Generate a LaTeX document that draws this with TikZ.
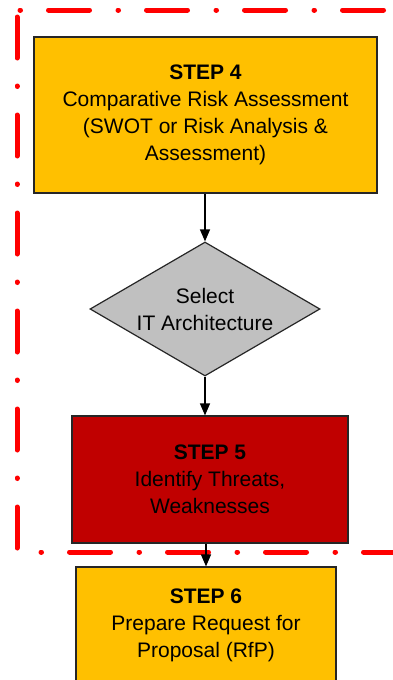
\documentclass[tikz,border=0pt]{standalone}
\usepackage{fontspec}
\setmainfont{Liberation Sans}
\usetikzlibrary{shapes.geometric,arrows.meta}

\definecolor{stepgold}{HTML}{FFC000}
\definecolor{stepred}{HTML}{C00000}
\definecolor{choicegray}{HTML}{C0C0C0}

\begin{document}
\begin{tikzpicture}[x=1pt,y=-1pt,
    stepbox/.style={draw=black!85,line width=1.2pt,align=center,inner sep=0pt,
      font=\fontsize{21}{27}\selectfont},
    flow/.style={line width=1.3pt,-{Triangle[width=10pt,length=12pt]}},
    frame/.style={red,line width=5pt,line cap=round}]
    \clip (0,0) rectangle (393,680);
    \fill[white] (0,0) rectangle (393,680);

    % red dash-dot frame
    \draw[frame,dash pattern=on 0.5pt off 28pt on 41pt off 28.5pt] (20,10) -- (400,10);
    \draw[frame,dash pattern=on 41pt off 28pt on 0.5pt off 28.5pt] (17,17) -- (17,549);
    \draw[frame,dash pattern=on 0.5pt off 28pt on 41pt off 28.5pt] (41,552) -- (400,552);

    \node (s4) at (205.5,115) [stepbox,fill=stepgold,minimum width=343pt,minimum height=156pt]
        {\textbf{STEP 4}\\Comparative Risk Assessment\\(SWOT or Risk Analysis \&\\Assessment)};
    \node (sel) at (205,309) [diamond,aspect=1.716,draw=black!85,line width=1.2pt,fill=choicegray,
        inner sep=0pt,minimum width=230pt,minimum height=134pt,align=center,
        font=\fontsize{21}{27}\selectfont]
        {Select\\IT Architecture};
    \node (s5) at (210,479.5) [stepbox,fill=stepred,minimum width=276pt,minimum height=127pt]
        {\textbf{STEP 5}\\Identify Threats,\\Weaknesses};
    \node (s6) at (206,625) [stepbox,fill=stepgold,minimum width=260pt,minimum height=116pt]
        {\textbf{STEP 6}\\Prepare Request for\\Proposal (RfP)};

    \draw[flow] (s4.south -| sel.north) -- (sel.north);
    \draw[flow] (sel.south) -- (s5.north -| sel.south);
    \draw[flow] (s5.south -| s6.north) -- (s6.north);
\end{tikzpicture}
\end{document}
